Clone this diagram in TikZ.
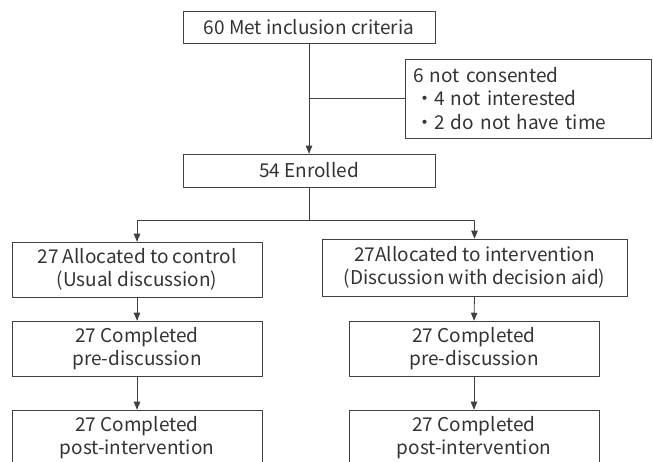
\documentclass[tikz,border=0pt]{standalone}
\usepackage{fontspec}
\usepackage{xcolor}
\usepackage{tikz}
\usetikzlibrary{calc}
\usetikzlibrary{arrows}
\setmainfont{Noto Sans CJK JP}
\definecolor{ththth}{rgb}{0.25,0.25,0.25}
\definecolor{sqsqsq}{rgb}{0.2,0.2,0.2}
\tikzstyle{every node}=[font=\fontsize{19}{23.5}\selectfont,text=sqsqsq]
\tikzstyle{box}=[draw=ththth,line width=0.8pt,inner sep=0pt,align=center]
\tikzstyle{wide}=[box,minimum width=252pt,minimum height=32pt]
\tikzstyle{arm}=[box,minimum width=250pt,minimum height=55pt]

\begin{document}
\begin{tikzpicture}[line cap=round,line join=round,>=triangle 45,x=1pt,y=-1pt]
\useasboundingbox (0,0) rectangle (653,462);
\clip (0,0) rectangle (653,462);

\node[wide] (crit) at (309,27.5) {60 Met inclusion criteria};
\node[box,minimum width=246pt,minimum height=79pt,text width=230pt,align=left] (excl) at (528,98.5)
  {6 not consented\\%
   \hspace*{2pt}・4 not interested\\%
   \hspace*{2pt}・2 do not have time};
\node[wide,minimum height=33pt] (enrol) at (309,170.5) {54 Enrolled};

\node[arm] (ctrl) at (137,269.5) {27 Allocated to control\\(Usual discussion)};
\node[arm,minimum width=305pt,minimum height=57pt] (intv) at (474.5,267.5) {27Allocated to intervention\\(Discussion with decision aid)};

\node[arm] (ctrlpre) at (137,348.5) {27 Completed\\pre-discussion};
\node[arm] (intvpre) at (474,348.5) {27 Completed\\pre-discussion};
\node[arm] (ctrlpost) at (137,437.5) {27 Completed\\post-intervention};
\node[arm] (intvpost) at (474,437.5) {27 Completed\\post-intervention};

\coordinate (split) at (309,220);

\draw [line width=0.8pt,color=ththth,->] (crit) -- (enrol);
\draw [line width=0.8pt,color=ththth] (crit.south |- excl.west) -- (excl.west);
\draw [line width=0.8pt,color=ththth] (enrol) -- (split);
\draw [line width=0.8pt,color=ththth,->] (split) -| (ctrl.north);
\draw [line width=0.8pt,color=ththth,->] (split) -| (intv.north);
\draw [line width=0.8pt,color=ththth,->] (ctrl) -- (ctrlpre);
\draw [line width=0.8pt,color=ththth,->] (intv.south) -- (intvpre.north);
\draw [line width=0.8pt,color=ththth,->] (ctrlpre) -- (ctrlpost);
\draw [line width=0.8pt,color=ththth,->] (intvpre) -- (intvpost);
\end{tikzpicture}
\end{document}
